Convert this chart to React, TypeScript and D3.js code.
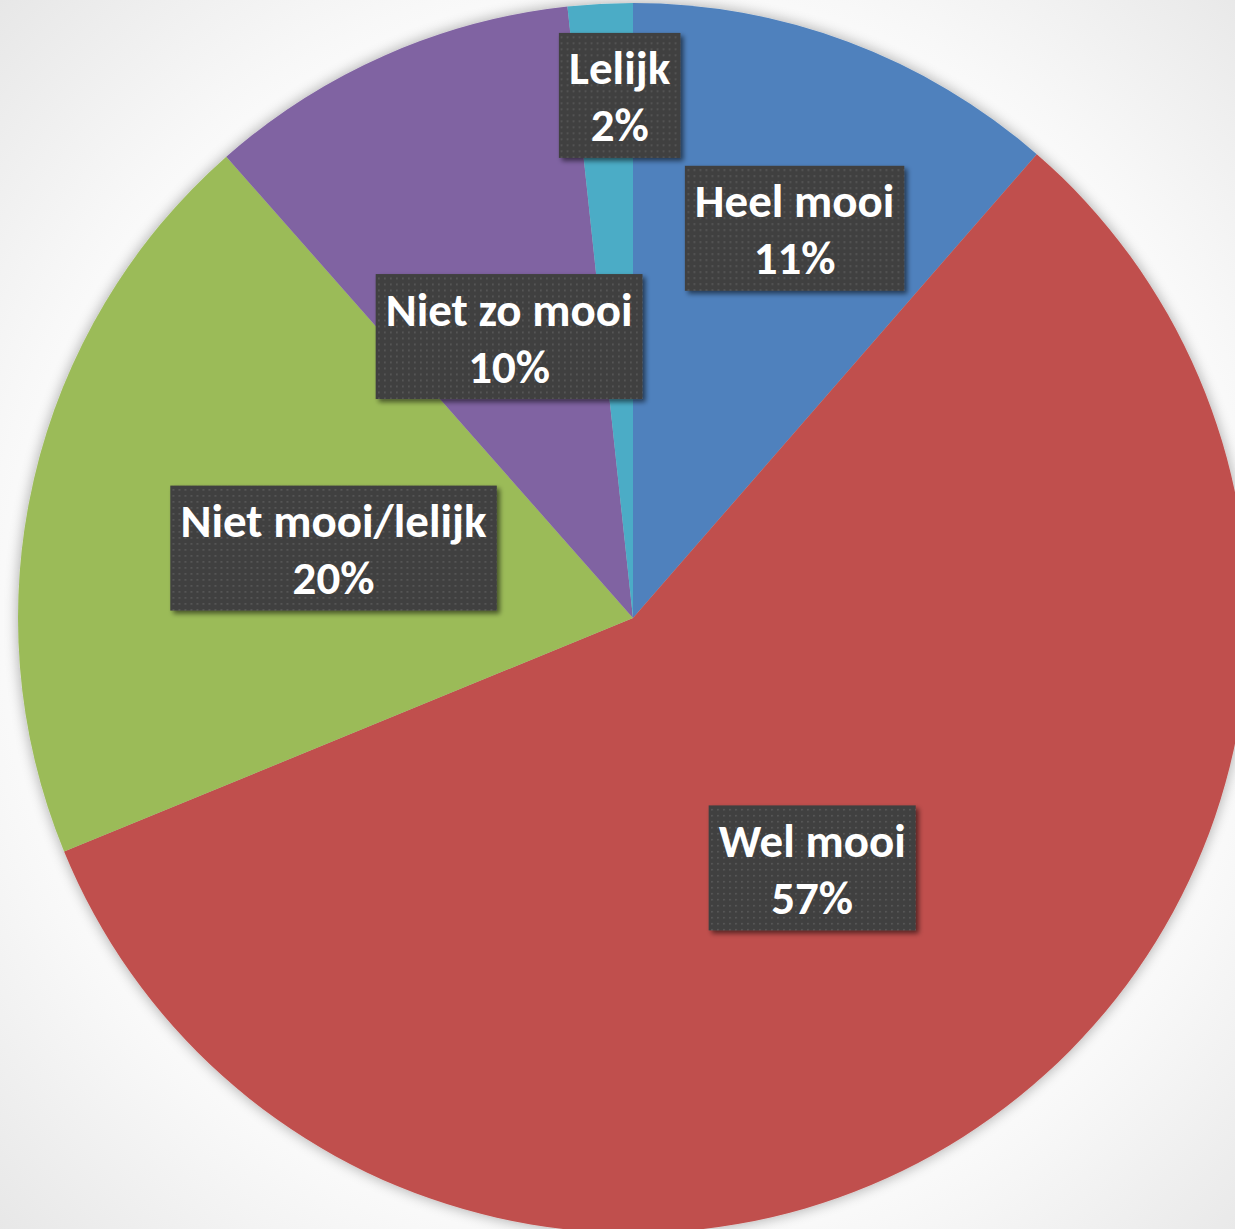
import React, { useEffect, useRef } from "react";
import * as d3 from "d3";

const categories = ["Heel mooi", "Wel mooi", "Niet mooi/lelijk", "Niet zo mooi", "Lelijk"];
const values = [11.4, 57.4, 19.7, 9.8, 1.7];
const percentLabels = ["11%", "57%", "20%", "10%", "2%"];
const colors = ["#4F81BD", "#C0504D", "#9BBB59", "#8064A2", "#4BACC6"];
// best-fit label placement: radial fraction of the radius and angular nudge (degrees)
const labelRadiusFactor = [0.686, 0.5, 0.5, 0.5, 0.85];
const labelAngleShift = [2.0, 0, 0, 0, 1.6];

const W = 1235;
const H = 1229;
const CX = 633;
const CY = 618;
const R = 615;

export default function App() {
  const ref = useRef<SVGSVGElement | null>(null);

  useEffect(() => {
    document.body.style.margin = "0";
    const svg = d3.select(ref.current!);
    svg.selectAll("*").remove();

    const defs = svg.append("defs");
    const bg = defs
      .append("radialGradient")
      .attr("id", "bgGrad")
      .attr("gradientUnits", "userSpaceOnUse")
      .attr("cx", CX)
      .attr("cy", CY)
      .attr("r", 900);
    bg.append("stop").attr("offset", "0.6").attr("stop-color", "#ffffff");
    bg.append("stop").attr("offset", "0.72").attr("stop-color", "#f8f8f8");
    bg.append("stop").attr("offset", "1").attr("stop-color", "#e6e6e6");

    const pieShadow = defs
      .append("filter")
      .attr("id", "pieShadow")
      .attr("x", "-10%")
      .attr("y", "-10%")
      .attr("width", "120%")
      .attr("height", "120%");
    pieShadow.append("feGaussianBlur").attr("in", "SourceAlpha").attr("stdDeviation", 7).attr("result", "b");
    pieShadow.append("feComponentTransfer").attr("in", "b").attr("result", "b2")
      .append("feFuncA").attr("type", "linear").attr("slope", 0.35);
    const m1 = pieShadow.append("feMerge");
    m1.append("feMergeNode").attr("in", "b2");
    m1.append("feMergeNode").attr("in", "SourceGraphic");

    const boxShadow = defs
      .append("filter")
      .attr("id", "boxShadow")
      .attr("x", "-20%")
      .attr("y", "-20%")
      .attr("width", "140%")
      .attr("height", "140%");
    boxShadow.append("feGaussianBlur").attr("in", "SourceAlpha").attr("stdDeviation", 2.5).attr("result", "b");
    boxShadow.append("feOffset").attr("in", "b").attr("dx", 3).attr("dy", 3).attr("result", "o");
    boxShadow.append("feComponentTransfer").attr("in", "o").attr("result", "o2")
      .append("feFuncA").attr("type", "linear").attr("slope", 0.55);
    const m2 = boxShadow.append("feMerge");
    m2.append("feMergeNode").attr("in", "o2");
    m2.append("feMergeNode").attr("in", "SourceGraphic");

    const pat = defs
      .append("pattern")
      .attr("id", "dots")
      .attr("patternUnits", "userSpaceOnUse")
      .attr("width", 6)
      .attr("height", 6);
    pat.append("rect").attr("width", 6).attr("height", 6).attr("fill", "#404040");
    pat.append("rect").attr("x", 1).attr("y", 1).attr("width", 1.6).attr("height", 1.6).attr("fill", "#5c5c5c");

    svg.append("rect").attr("width", W).attr("height", H).attr("fill", "url(#bgGrad)");

    const data = categories.map((c, i) => ({ c, v: values[i], i }));
    const pie = d3.pie<any>().value((d: any) => d.v).sort(null);
    const arcs = pie(data);
    const arc = d3.arc<any>().innerRadius(0).outerRadius(R);

    const g = svg.append("g").attr("transform", `translate(${CX},${CY})`);
    const pg = g.append("g").attr("filter", "url(#pieShadow)");
    pg.selectAll("path")
      .data(arcs)
      .join("path")
      .attr("d", arc as any)
      .attr("fill", (d: any) => colors[d.data.i]);

    const lg = g.append("g");
    arcs.forEach((a: any) => {
      const i = a.data.i;
      const mid = (a.startAngle + a.endAngle) / 2 + (labelAngleShift[i] * Math.PI) / 180;
      const r = R * labelRadiusFactor[i];
      const x = Math.sin(mid) * r;
      const y = -Math.cos(mid) * r;
      const grp = lg.append("g").attr("transform", `translate(${x},${y})`);
      const box = grp.append("rect").attr("fill", "url(#dots)").attr("filter", "url(#boxShadow)");
      const t = grp
        .append("text")
        .attr("text-anchor", "middle")
        .attr("fill", "#ffffff")
        .style("font-family", "Carlito, Lato, 'Open Sans', sans-serif")
        .style("font-weight", "bold")
        .style("font-size", "47px");
      t.append("tspan").attr("x", 0).attr("y", -11).text(categories[i]);
      t.append("tspan").attr("x", 0).attr("y", 46).text(percentLabels[i]);
      const bb = (t.node() as SVGTextElement).getBBox();
      const bw = bb.width + 20;
      const bh = 125;
      box.attr("x", -bw / 2).attr("y", -bh / 2).attr("width", bw).attr("height", bh);
    });
  }, []);

  return (
    <svg
      ref={ref}
      width={W}
      height={H}
      style={{ position: "absolute", left: 0, top: 0, display: "block" }}
    />
  );
}
